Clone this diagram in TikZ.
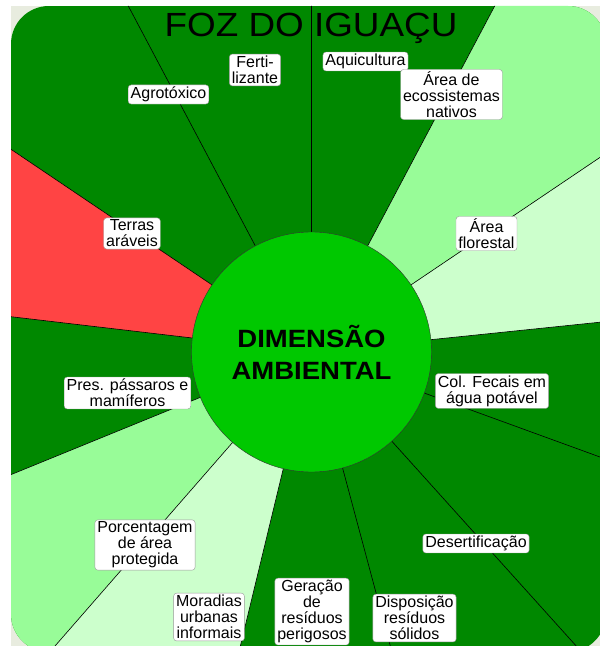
\documentclass[tikz,border=0pt]{standalone}
\usepackage{fontspec}
\setmainfont{Liberation Sans}
\newfontfamily\widefont[FakeStretch=1.1]{Liberation Sans}
\definecolor{dkgreen}{RGB}{0,136,0}
\definecolor{ltgreen}{RGB}{152,252,152}
\definecolor{palegreen}{RGB}{204,255,204}
\definecolor{hotred}{RGB}{255,68,68}
\definecolor{disc}{RGB}{0,200,0}
\definecolor{panel}{RGB}{232,236,223}
\begin{document}
\begin{tikzpicture}
[x=1pt, y=1pt,
 ind/.style={draw=black!40, fill=white, rounded corners=3pt, align=center,
   inner xsep=2.5pt, inner ysep=2pt, font=\fontsize{16}{16}\selectfont},
 ray/.style={black, line width=.6pt}]
\useasboundingbox (0,0) rectangle (600,646);
\fill[white] (0,0) rectangle (600,646);
\fill[panel] (11,0) rectangle (600,640);
\coordinate (C) at (311.5,294);
\begin{scope}
\clip[rounded corners=38pt] (11,-6) rectangle (606,640);
\fill[dkgreen] (11,-6) rectangle (606,640);
\foreach \a/\b/\col in {146/173.3/hotred, 202.2/228.9/ltgreen, 228.9/256.4/palegreen,
                        5.9/34/palegreen, 34/62.1/ltgreen}
  \fill[\col] (C) -- ++(\a:700) arc[start angle=\a, end angle=\b, radius=700] -- cycle;
\foreach \a in {90,117.9,146,173.3,202.2,228.9,256.4,285,312,340,5.9,34,62.1}
  \draw[ray] (C) -- ++(\a:700);
\end{scope}

\node (DIM) [circle, draw=black!80, fill=disc, minimum size=240pt, inner sep=0pt, align=center,
  font=\widefont\bfseries\fontsize{25}{32}\selectfont] at (C) {DIMENSÃO\\AMBIENTAL};
\node (TITLE) [anchor=base, inner sep=0pt, font=\widefont\fontsize{33.5}{36}\selectfont]
  at (311,609) {FOZ DO IGUAÇU};

\node (FERT) [ind] at (255,576) {Ferti-\\lizante};
\node (AGRO) [ind] at (168.5,551.5) {Agrotóxico};
\node (TERR) [ind] at (132,412.5) {Terras\\aráveis};
\node (AQUI) [ind] at (365.5,584.5) {Aquicultura};
\node (ECOS) [ind] at (451.5,551.5) {Área de\\ecossistemas\\nativos};
\node (FLOR) [ind] at (486.5,412.5) {Área\\florestal};
\node (PRES) [ind] at (127.5,253) {Pres. pássaros e\\mamíferos};
\node (PORC) [ind] at (145,101) {Porcentagem\\de área\\protegida};
\node (MORA) [ind, anchor=north] at (209,53) {Moradias\\urbanas\\informais};
\node (GERA) [ind, anchor=north] at (312,68) {Geração\\de\\resíduos\\perigosos};
\node (DISP) [ind, anchor=north] at (414.5,52) {Disposição\\resíduos\\sólidos};
\node (DESE) [ind] at (476,102.5) {Desertificação};
\node (COLF) [ind] at (492,255) {Col. Fecais em\\água potável};
\end{tikzpicture}
\end{document}
